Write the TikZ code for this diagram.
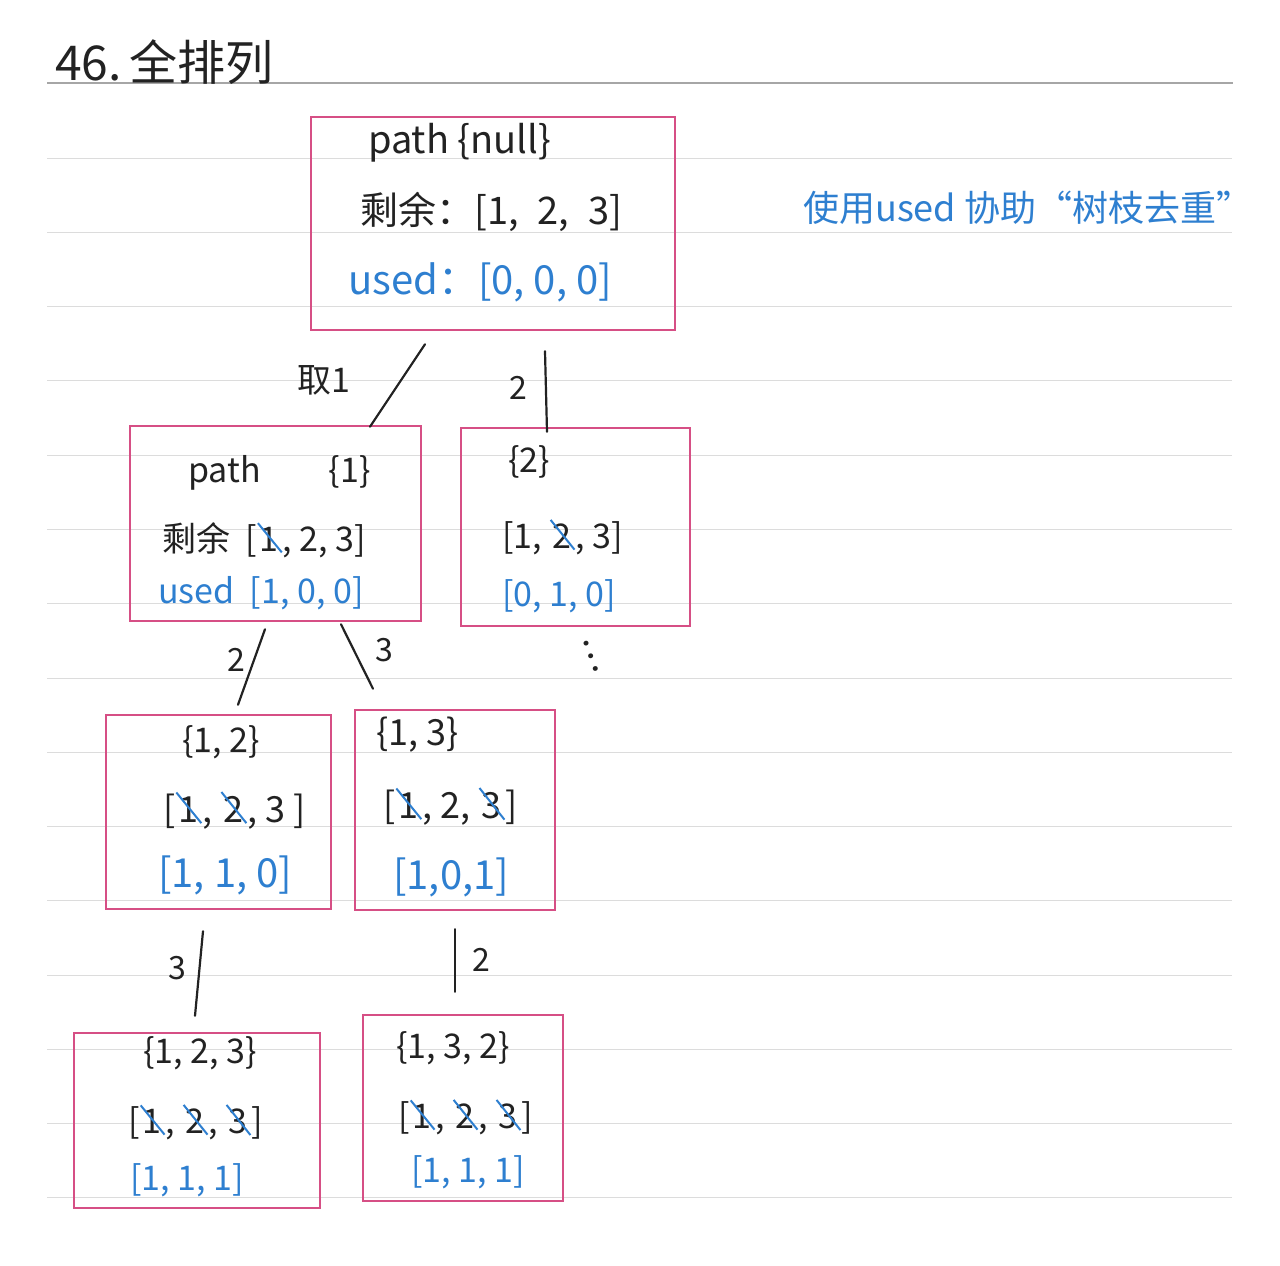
\documentclass[tikz,border=0pt]{standalone}
\usepackage{fontspec}
\setmainfont{Noto Sans CJK SC}
\usetikzlibrary{calc}

\definecolor{boxpink}{HTML}{D64F85}
\definecolor{inkblue}{HTML}{2E7FD0}
\definecolor{rulegray}{HTML}{DCDCDC}
\definecolor{inkblack}{HTML}{222222}

\newcommand{\fs}[1]{\fontsize{#1}{#1}\selectfont}
% crossed-out number
\newcommand{\struck}[1]{\tikz[baseline=(s.base)]{\node[inner sep=0pt, outer sep=0pt] (s) {#1};
  \draw[inkblue, line width=2pt] ([shift={(-2pt,4pt)}]s.north west) -- ([shift={(3pt,-1pt)}]s.south east);}}

\tikzset{
  box/.style = {draw=boxpink, line width=2.5pt, inner sep=0pt},
  txt/.style = {inner sep=0pt, anchor=west, text=inkblack},
  usedtxt/.style = {txt, text=inkblue},
  elabel/.style = {inner sep=0pt, text=inkblack, font=\fs{32}},
  edge/.style = {draw=inkblack, line width=2.2pt, line cap=round}
}

\begin{document}
\begin{tikzpicture}[x=1pt, y=-1pt]
  \fill[white] (0,0) rectangle (1280,1266);
  \useasboundingbox (0,0) rectangle (1280,1266);

  % notebook lines
  \draw[gray!70, line width=1.5pt] (47,83) -- (1233,83);
  \foreach \y in {158,232,306,380,455,529,603,678,752,826,900,975,1049,1123,1197}
    \draw[rulegray, line width=1pt] (47,\y) -- (1232,\y);

  % title and note
  \node[txt, font=\fs{48}] (title) at (55,62) {46.\,全排列};
  \node[txt, text=inkblue, font=\fs{36}] (note) at (803,208) {使用used 协助“树枝去重”};

  % boxes
  \node[box, minimum width=364pt, minimum height=213pt] (root) at (493,223.5) {};
  \node[box, minimum width=291pt, minimum height=195pt] (n1) at (275.5,523.5) {};
  \node[box, minimum width=229pt, minimum height=198pt] (n2) at (575.5,527) {};
  \node[box, minimum width=225pt, minimum height=194pt] (n12) at (218.5,812) {};
  \node[box, minimum width=200pt, minimum height=200pt] (n13) at (455,810) {};
  \node[box, minimum width=246pt, minimum height=175pt] (n123) at (197,1120.5) {};
  \node[box, minimum width=200pt, minimum height=186pt] (n132) at (463,1108) {};

  % box texts
  \node[txt, font=\fs{38}] (root-path) at (368,143) {path \{null\}};
  \node[txt, font=\fs{38}] (root-rest) at (360,212) {剩余：[1,\; 2,\; 3]};
  \node[usedtxt, font=\fs{40}] (root-used) at (348,282) {used：[0, 0, 0]};

  \node[txt, font=\fs{34}] (n1-path) at (188,473) {path\qquad\{1\}};
  \node[txt, font=\fs{34}] (n1-rest) at (162,540) {剩余\ \ [\struck{1}, 2, 3]};
  \node[usedtxt, font=\fs{34}] (n1-used) at (158,593) {used\ \ [1, 0, 0]};

  \node[txt, font=\fs{34}] (n2-path) at (508,462) {\{2\}};
  \node[txt, font=\fs{34}] (n2-rest) at (502,537) {[1,\ \struck{2},\ 3]};
  \node[usedtxt, font=\fs{34}] (n2-used) at (502,596) {[0, 1, 0]};

  \node[txt, font=\fs{34}] (n12-path) at (182,742) {\{1, 2\}};
  \node[txt, font=\fs{36}] (n12-rest) at (163,810) {[\struck{1}, \struck{2}, 3 ]};
  \node[usedtxt, font=\fs{40}] (n12-used) at (158,875) {[1, 1, 0]};

  \node[txt, font=\fs{36}] (n13-path) at (376,735) {\{1, 3\}};
  \node[txt, font=\fs{36}] (n13-rest) at (383,806) {[\struck{1}, 2, \struck{3}]};
  \node[usedtxt, font=\fs{40}] (n13-used) at (393,877) {[1,0,1]};

  \node[txt, font=\fs{34}] (n123-path) at (143,1053) {\{1, 2, 3\}};
  \node[txt, font=\fs{34}] (n123-rest) at (128,1122) {[\struck{1}, \struck{2}, \struck{3}]};
  \node[usedtxt, font=\fs{34}] (n123-used) at (130,1180) {[1, 1, 1]};

  \node[txt, font=\fs{34}] (n132-path) at (396,1048) {\{1, 3, 2\}};
  \node[txt, font=\fs{34}] (n132-rest) at (398,1117) {[\struck{1}, \struck{2}, \struck{3}]};
  \node[usedtxt, font=\fs{34}] (n132-used) at (411,1172) {[1, 1, 1]};

  % connectors
  \draw[edge] ($(root.south)+(-68,13)$) -- ($(n1.north)+(94.5,2)$);
  \draw[edge] ($(root.south)+(52,20)$) -- ($(n2.north)+(-28.5,5)$);
  \draw[edge] ($(n1.south)+(-10.5,7)$) -- ($(n12.north)+(19.5,-9)$);
  \draw[edge] ($(n1.south)+(65.5,2)$) -- ($(n13.north)+(-82,-20)$);
  \draw[edge] ($(n12.south)+(-15.5,21)$) -- ($(n123.north)+(-2,-16)$);
  \draw[edge] ($(n13.south)+(0,18)$) -- ($(n132.north)+(-8,-22)$);

  % edge labels
  \node[elabel, font=\fs{34}] (l-root-n1) at (324,380) {取1};
  \node[elabel] (l-root-n2) at (518,388) {2};
  \node[elabel] (l-n1-n12) at (236,660) {2};
  \node[elabel] (l-n1-n13) at (384,650) {3};
  \node[elabel] (l-n12-n123) at (177,968) {3};
  \node[elabel] (l-n13-n132) at (481,960) {2};
  \node[elabel, rotate=-70, font=\fs{36}] (more) at (591,656) {…};
\end{tikzpicture}
\end{document}
